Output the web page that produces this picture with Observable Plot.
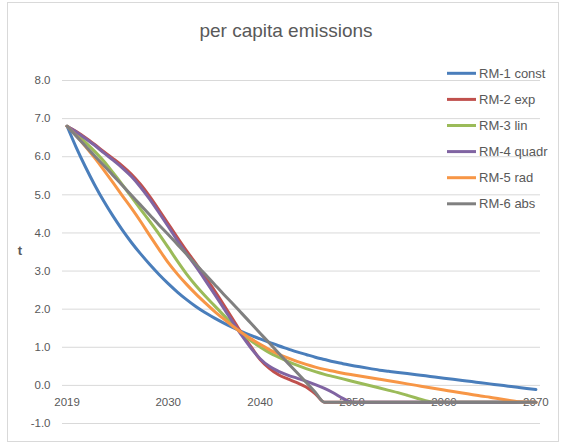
<!DOCTYPE html>
<html><head><meta charset="utf-8">
<script src="https://cdn.jsdelivr.net/npm/d3@7"></script>
<script src="https://cdn.jsdelivr.net/npm/@observablehq/plot@0.6"></script>
<style>body{margin:0;background:#fff}#chart{width:562px;height:446px}</style>
</head><body><div id="chart"></div>
<script>
const years = [2019,2020,2021,2022,2023,2024,2025,2026,2027,2028,2029,2030,2031,2032,2033,2034,2035,2036,2037,2038,2039,2040,2041,2042,2043,2044,2045,2046,2047,2048,2049,2050,2051,2052,2053,2054,2055,2056,2057,2058,2059,2060,2061,2062,2063,2064,2065,2066,2067,2068,2069,2070];
const seriesNames = ["RM-1 const","RM-2 exp","RM-3 lin","RM-4 quadr","RM-5 rad","RM-6 abs"];
const seriesColors = ["#4A7EBB","#C0504D","#9BBB59","#8064A2","#F79646","#808080"];
const rm1Const = [6.80,6.24,5.73,5.26,4.83,4.44,4.08,3.75,3.45,3.17,2.91,2.67,2.45,2.25,2.07,1.91,1.77,1.64,1.52,1.41,1.31,1.22,1.13,1.04,0.96,0.88,0.81,0.74,0.68,0.62,0.57,0.52,0.48,0.44,0.40,0.37,0.34,0.31,0.28,0.25,0.22,0.19,0.16,0.13,0.10,0.07,0.04,0.01,-0.02,-0.05,-0.08,-0.11];
const rm2Exp = [6.80,6.66,6.50,6.32,6.13,5.95,5.76,5.54,5.27,4.95,4.60,4.24,3.88,3.53,3.20,2.85,2.50,2.13,1.75,1.36,1.02,0.68,0.45,0.28,0.17,0.07,-0.04,-0.22,-0.44,-0.44,-0.44,-0.44,-0.44,-0.44,-0.44,-0.44,-0.44,-0.44,-0.44,-0.44,-0.44,-0.44,-0.44,-0.44,-0.44,-0.44,-0.44,-0.44,-0.44,-0.44,-0.44,-0.44];
const rm3Lin = [6.80,6.60,6.38,6.14,5.88,5.58,5.27,4.95,4.62,4.30,3.97,3.62,3.26,2.92,2.62,2.35,2.10,1.85,1.60,1.36,1.17,1.01,0.86,0.74,0.63,0.53,0.44,0.36,0.29,0.23,0.17,0.11,0.05,-0.01,-0.07,-0.13,-0.19,-0.26,-0.33,-0.40,-0.44,-0.44,-0.44,-0.44,-0.44,-0.44,-0.44,-0.44,-0.44,-0.44,-0.44,-0.44];
const rm4Quadr = [6.80,6.65,6.48,6.30,6.10,5.91,5.71,5.48,5.20,4.88,4.53,4.17,3.80,3.45,3.12,2.77,2.41,2.04,1.67,1.31,0.98,0.70,0.50,0.37,0.27,0.19,0.11,0.02,-0.08,-0.20,-0.34,-0.44,-0.44,-0.44,-0.44,-0.44,-0.44,-0.44,-0.44,-0.44,-0.44,-0.44,-0.44,-0.44,-0.44,-0.44,-0.44,-0.44,-0.44,-0.44,-0.44,-0.44];
const rm5Rad = [6.80,6.55,6.27,5.97,5.65,5.32,4.98,4.65,4.30,3.93,3.57,3.22,2.92,2.65,2.40,2.17,1.95,1.75,1.56,1.38,1.22,1.08,0.94,0.82,0.72,0.63,0.55,0.48,0.42,0.37,0.32,0.28,0.24,0.20,0.16,0.12,0.08,0.04,0.00,-0.04,-0.08,-0.12,-0.16,-0.20,-0.24,-0.28,-0.31,-0.35,-0.39,-0.43,-0.44,-0.44];
const rm6Abs = [6.80,6.54,6.28,6.02,5.77,5.51,5.25,4.99,4.73,4.47,4.21,3.96,3.70,3.44,3.18,2.92,2.66,2.40,2.15,1.89,1.63,1.37,1.11,0.85,0.59,0.34,0.08,-0.18,-0.44,-0.44,-0.44,-0.44,-0.44,-0.44,-0.44,-0.44,-0.44,-0.44,-0.44,-0.44,-0.44,-0.44,-0.44,-0.44,-0.44,-0.44,-0.44,-0.44,-0.44,-0.44,-0.44,-0.44];
const yTicks = [-1,0,1,2,3,4,5,6,7,8];
const xTickLabels = [2019,2030,2040,2050,2060,2070];
const titleText = "per capita emissions";
const yLabel = "t";

const allSeries = [rm1Const, rm2Exp, rm3Lin, rm4Quadr, rm5Rad, rm6Abs];
const table = allSeries.flatMap((vals, i) => vals.map((v, j) => ({series: seriesNames[i], year: years[j], value: v})));

const font = "'Liberation Sans', Arial, sans-serif";
const svg = Plot.plot({
  width: 562, height: 446,
  marginLeft: 62, marginRight: 22, marginTop: 80, marginBottom: 23,
  style: {fontFamily: font, fontSize: "11.5px", color: "#595959", background: "white"},
  x: {domain: [2018.5, 2070.5], axis: null},
  y: {domain: [-1, 8]},
  color: {domain: seriesNames, range: seriesColors},
  marks: [
    Plot.ruleY(yTicks, {stroke: "#d9d9d9", strokeWidth: 1}),
    Plot.axisY(yTicks, {tickFormat: d => d.toFixed(1), tickSize: 0, tickPadding: 12, label: null, fill: "#595959"}),
    Plot.text(xTickLabels, {x: d => d, y: 0, dy: 17, text: d => String(d), fill: "#595959"}),
    Plot.line(table, {x: "year", y: "value", z: "series", stroke: "series", strokeWidth: 3, curve: "monotone-x"})
  ]
});

const s = d3.select(svg);
s.append("rect").attr("x", 7.5).attr("y", 2.5).attr("width", 551).attr("height", 439)
  .attr("fill", "none").attr("stroke", "#d9d9d9");
s.append("text").attr("x", 286).attr("y", 30).attr("dy", "0.35em").attr("text-anchor", "middle")
  .attr("font-family", font).attr("font-size", 19).attr("fill", "#595959").text(titleText);
s.append("text").attr("x", 20).attr("y", 250).attr("dy", "0.35em").attr("text-anchor", "middle")
  .attr("font-family", font).attr("font-size", 13).attr("font-weight", "bold").attr("fill", "#595959").text(yLabel);
const lg = s.append("g");
seriesNames.forEach((name, i) => {
  const yy = 73.3 + i * 26.1;
  lg.append("line").attr("x1", 447).attr("x2", 476).attr("y1", yy).attr("y2", yy)
    .attr("stroke", seriesColors[i]).attr("stroke-width", 3);
  lg.append("text").attr("x", 479).attr("y", yy).attr("dy", "0.35em").attr("text-anchor", "start")
    .attr("font-family", font).attr("font-size", 13).attr("fill", "#595959").text(name);
});
document.getElementById("chart").appendChild(svg);
</script>
</body></html>
